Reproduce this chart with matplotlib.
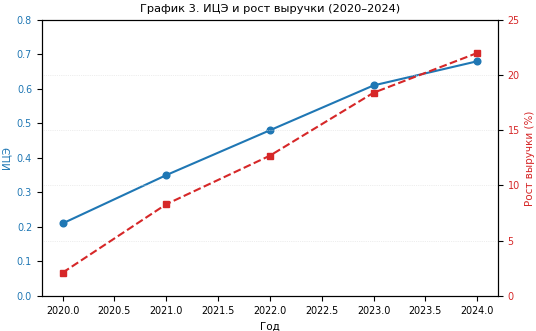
import matplotlib.pyplot as plt

years = [2020, 2021, 2022, 2023, 2024]
ice = [0.21, 0.35, 0.48, 0.61, 0.68]
revenue_growth = [2.1, 8.3, 12.7, 18.4, 22.0]

blue = '#1f77b4'
red = '#d62728'

plt.rcParams['font.size'] = 6.9

fig, ax1 = plt.subplots(figsize=(5.36, 3.31), dpi=100)

ax1.plot(years, ice, color=blue, marker='o', markersize=4.8, linewidth=1.5)
ax1.set_ylim(0, 0.8)
ax1.set_xlabel('Год', fontsize=7.5)
ax1.set_ylabel('ИЦЭ', color=blue, fontsize=7.5)
ax1.tick_params(axis='y', labelcolor=blue)

ax2 = ax1.twinx()
ax2.plot(years, revenue_growth, color=red, marker='s', markersize=4.5,
         linewidth=1.5, linestyle='--')
ax2.set_ylim(0, 25)
ax2.set_ylabel('Рост выручки (%)', color=red, fontsize=7.5)
ax2.tick_params(axis='y', labelcolor=red)
ax2.grid(True, axis='y', linestyle=':', linewidth=0.5, color='#dddddd')

ax1.set_title('График 3. ИЦЭ и рост выручки (2020–2024)', fontsize=8.2)

fig.subplots_adjust(left=0.078, right=0.929, top=0.94, bottom=0.106)
fig.savefig('out.png', dpi=100)
plt.close(fig)
